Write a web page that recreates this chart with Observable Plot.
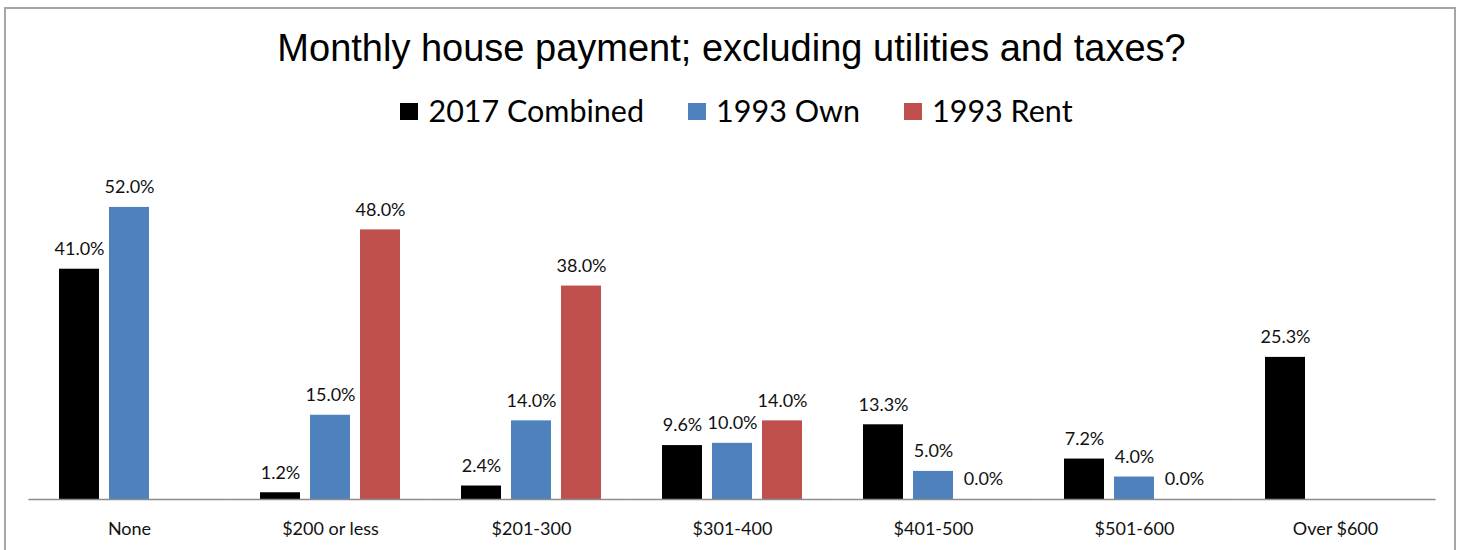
<!DOCTYPE html>
<html>
<head>
<meta charset="utf-8">
<script src="https://cdn.jsdelivr.net/npm/d3@7"></script>
<script src="https://cdn.jsdelivr.net/npm/@observablehq/plot@0.6"></script>
<style>
  html, body { margin: 0; padding: 0; background: #fff; overflow: hidden; }
  #wrap { position: relative; width: 1463px; height: 550px; overflow: hidden; }
  #frame { position: absolute; left: 4px; top: 7px; width: 1452px; height: 600px; border: 2px solid #a6a6a6; box-sizing: border-box; pointer-events: none; }
  #header { position: relative; height: 140px; }
  #title { position: absolute; left: 0; width: 1463px; top: 29px; text-align: center; font-family: "Liberation Sans", Arial, sans-serif; font-size: 38px; line-height: 38px; color: #000; }
  #legend { position: absolute; left: 5px; width: 1463px; top: 93px; display: flex; justify-content: center; align-items: center; font-family: Lato, sans-serif; font-size: 30.5px; line-height: 34px; color: #000; }
  .item { display: flex; align-items: center; margin: 0 22px; }
  .sw { width: 18px; height: 17px; margin-right: 10px; margin-top: 3px; }
  #chart svg { display: block; }
</style>
</head>
<body>
<div id="wrap">
  <div id="header">
    <div id="title">Monthly house payment; excluding utilities and taxes?</div>
    <div id="legend"></div>
  </div>
  <div id="chart"></div>
  <div id="frame"></div>
</div>
<script>
const categories = ["None", "$200 or less", "$201-300", "$301-400", "$401-500", "$501-600", "Over $600"];
const series = ["2017 Combined", "1993 Own", "1993 Rent"];
const combined2017 = [41.0, 1.2, 2.4, 9.6, 13.3, 7.2, 25.3];
const own1993 = [52.0, 15.0, 14.0, 10.0, 5.0, 4.0, null];
const rent1993 = [null, 48.0, 38.0, 14.0, 0.0, 0.0, null];
const colors = ["#000000", "#4F81BD", "#C0504D"];

const seriesValues = [combined2017, own1993, rent1993];
const data = [];
categories.forEach((c, i) => {
  seriesValues.forEach((arr, j) => {
    if (arr[i] != null) data.push({category: c, series: series[j], value: arr[i]});
  });
});

// legend
const legend = document.getElementById("legend");
series.forEach((s, j) => {
  const item = document.createElement("div");
  item.className = "item";
  const sw = document.createElement("div");
  sw.className = "sw";
  sw.style.background = colors[j];
  const t = document.createElement("span");
  t.textContent = s;
  item.appendChild(sw);
  item.appendChild(t);
  legend.appendChild(item);
});

const chart = Plot.plot({
  width: 1463,
  height: 410,
  marginTop: 22,
  marginBottom: 51,
  marginLeft: 28,
  marginRight: 28,
  style: {fontFamily: "Lato, sans-serif", background: "transparent"},
  fx: {domain: categories, paddingInner: 0.204, paddingOuter: 0.102, label: null, axis: null},
  x: {domain: series, padding: 0.2, axis: null},
  y: {domain: [0, 60], axis: null},
  color: {domain: series, range: colors},
  marks: [
    Plot.barY(data, {fx: "category", x: "series", y: "value", fill: "series"}),
    Plot.ruleY([0], {stroke: "#8c8c8c", strokeWidth: 1.5, insetLeft: -20.6, insetRight: -20.6}),
    Plot.text(data, {fx: "category", x: "series", y: "value", text: d => d.value.toFixed(1) + "%", dy: -20, fontSize: 18, fill: "#111"}),
    Plot.axisFx({anchor: "bottom", tickSize: 0, tickPadding: 23, fontSize: 18, fill: "#111", label: null})
  ]
});
document.getElementById("chart").appendChild(chart);
</script>
</body>
</html>
